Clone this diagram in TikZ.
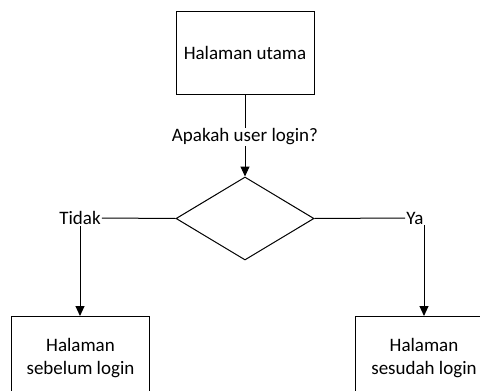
\documentclass[tikz,border=0pt]{standalone}
\usepackage{fontspec}
\setmainfont{Carlito}
\usetikzlibrary{arrows.meta,shapes.geometric}
\tikzset{
  box/.style={draw, line width=1pt, minimum width=138pt, minimum height=83pt,
    align=center, inner sep=0pt, font=\fontsize{19}{23}\selectfont},
  decision/.style={draw, line width=1pt, diamond, minimum width=138pt,
    minimum height=83pt, inner sep=0pt},
  lbl/.style={inner sep=1pt, font=\fontsize{19}{23}\selectfont},
  link/.style={line width=1pt},
  flow/.style={line width=1pt, -{Triangle[width=9pt,length=10pt]}}
}
\begin{document}
\begin{tikzpicture}[x=1pt,y=-1pt]
  \useasboundingbox (0,0) rectangle (480,391);
  \clip (0,0) rectangle (480,391);
  % main page and the login question
  \node[box] (main) at (245,53) {Halaman utama};
  \node[lbl] (ask) at (245,137) {Apakah user login?};
  \node[decision] (dec) at (245,218.5) {};
  % the two branches
  \node[lbl] (no) at (80,218) {Tidak};
  \node[lbl] (yes) at (415,218) {Ya};
  \node[box] (before) at (80.5,358) {Halaman\\sebelum login};
  \node[box] (after) at (424,358) {Halaman\\sesudah login};
  % connectors
  \draw[link] (main.south) -- (ask.north);
  \draw[flow] (ask.south) -- (dec.north);
  \draw[link] (dec.west) -- (no.east);
  \draw[link] (dec.east) -- (yes.west);
  \draw[flow] (no.south) -- (no.south |- before.north);
  \draw[flow] (yes.south -| after.north) -- (after.north);
\end{tikzpicture}
\end{document}
